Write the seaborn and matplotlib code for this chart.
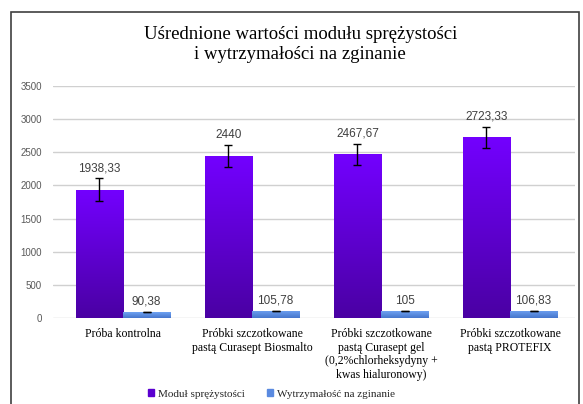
import matplotlib
matplotlib.use('Agg')
import matplotlib.pyplot as plt
from matplotlib.colors import LinearSegmentedColormap
from matplotlib.patches import Rectangle
import seaborn as sns
import pandas as pd
import numpy as np

# --- data ---
categories = [
    "Próba kontrolna",
    "Próbki szczotkowane\npastą Curasept Biosmalto",
    "Próbki szczotkowane\npastą Curasept gel\n(0,2%chlorheksydyny +\nkwas hialuronowy)",
    "Próbki szczotkowane\npastą PROTEFIX",
]
series = ["Moduł sprężystości", "Wytrzymałość na zginanie"]
modul = [1938.33, 2440, 2467.67, 2723.33]
modul_err = [167, 168, 163, 165]
wytrz = [90.38, 105.78, 105, 106.83]
wytrz_err = [5, 5, 5, 5]
modul_labels = ["1938,33", "2440", "2467,67", "2723,33"]
wytrz_labels = ["90,38", "105,78", "105", "106,83"]
yticks = [0, 500, 1000, 1500, 2000, 2500, 3000, 3500]

df = pd.DataFrame({
    "kat": categories * 2,
    "seria": [series[0]] * 4 + [series[1]] * 4,
    "wartosc": modul + wytrz,
})

sns.set_theme(style="white")
serif = ["Liberation Serif", "DejaVu Serif"]
sans = ["Liberation Sans", "DejaVu Sans"]

fig = plt.figure(figsize=(5.83, 4.04), dpi=100)
fig.patch.set_facecolor("white")
# outer frame
fig.patches.append(Rectangle((11 / 583, -0.01), (579 - 11) / 583, (404 - 12) / 404 + 0.01,
                             transform=fig.transFigure, fill=False, edgecolor="#404040",
                             linewidth=1.2))

ax = fig.add_axes([53 / 583, (404 - 318) / 404, 522 / 583, 232 / 404])

purple_solid = "#5a00d0"
blue_solid = "#5a8ae0"
sns.barplot(data=df, x="kat", y="wartosc", hue="seria", ax=ax, width=0.73,
            palette=[purple_solid, blue_solid], errorbar=None, legend=False,
            saturation=1, zorder=2)

# vertical gradient fill like the original
cmaps = [
    LinearSegmentedColormap.from_list("p", ["#4a00a3", "#7300ff"]),
    LinearSegmentedColormap.from_list("b", ["#4676cc", "#6fa2f2"]),
]
grad = np.linspace(0, 1, 256).reshape(-1, 1)
bars = ax.patches
for i, bar in enumerate(bars):
    s = 0 if i < 4 else 1
    x0, w, h = bar.get_x(), bar.get_width(), bar.get_height()
    im = ax.imshow(grad, cmap=cmaps[s], aspect="auto", origin="lower",
                   extent=[x0, x0 + w, 0, h], zorder=2.5)
    im.set_clip_path(bar)
    bar.set_edgecolor("none")

ax.set_xlim(-0.543, 3.504)
ax.set_ylim(0, 3500)

# error bars and value labels
vals = [modul, wytrz]
errs = [modul_err, wytrz_err]
labs = [modul_labels, wytrz_labels]
for i, bar in enumerate(bars):
    s, k = divmod(i, 4)
    cx = bar.get_x() + bar.get_width() / 2
    v, e = vals[s][k], errs[s][k]
    ax.errorbar(cx, v, yerr=e, color="black", capsize=3, elinewidth=1,
                capthick=1, zorder=4)
    ax.annotate(labs[s][k], (cx, v + e), xytext=(0, 3), textcoords="offset points",
                ha="center", va="bottom", fontsize=8.5, color="#404040", family=sans)

ax.set_yticks(yticks)
ax.set_yticklabels([str(t) for t in yticks], family=sans, fontsize=7, color="#595959")
ax.set_xticks(range(4))
ax.set_xticklabels(categories, family=serif, fontsize=8.5, color="black", linespacing=1.2)
ax.tick_params(axis="both", length=0)
ax.tick_params(axis="y", pad=8)
ax.tick_params(axis="x", pad=7)
ax.yaxis.grid(True, color="#d0d0d0", linewidth=1, zorder=0)
ax.set_axisbelow(True)
for sp in ax.spines.values():
    sp.set_visible(False)
ax.set_xlabel("")
ax.set_ylabel("")

fig.text(0.515, 0.889, "Uśrednione wartości modułu sprężystości\ni wytrzymałości na zginanie",
         ha="center", va="center", family=serif, fontsize=13.5, color="black", linespacing=1.25)

handles = [Rectangle((0, 0), 1, 1, color="#5a00d0"), Rectangle((0, 0), 1, 1, color="#5a8ae0")]
fig.legend(handles, series, loc="center", bbox_to_anchor=(0.465, 0.025), ncol=2, frameon=False,
           prop={"family": serif, "size": 8}, handlelength=0.6, handleheight=0.6,
           handletextpad=0.3, columnspacing=2.0)

fig.savefig("out.png", dpi=100, facecolor="white")
